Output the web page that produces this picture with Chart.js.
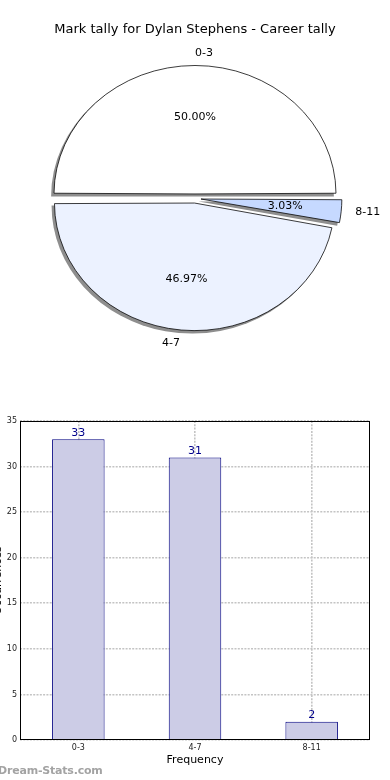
<!DOCTYPE html>
<html>
<head>
<meta charset="utf-8">
<script src="https://cdn.jsdelivr.net/npm/chart.js@4.4.0/dist/chart.umd.min.js"></script>
<style>
html, body { margin: 0; padding: 0; background: #fff; }
body { width: 390px; height: 780px; position: relative; overflow: hidden; }
#pie { position: absolute; left: 0; top: 0; }
#bar { position: absolute; left: -10px; top: 400px; }
#mark { position: absolute; left: -2px; top: 764px; font: bold 11px "DejaVu Sans", sans-serif; color: #a3a3a3; letter-spacing: -0.2px; }
</style>
</head>
<body>
<canvas id="pie" width="390" height="360"></canvas>
<canvas id="bar" width="400" height="380"></canvas>
<div id="mark">Dream-Stats.com</div>
<script>
// data
const chartTitle = 'Mark tally for Dylan Stephens - Career tally';
const categories = ['0-3', '4-7', '8-11'];
const tally = [33, 31, 2];
const pieOrder = [0, 2, 1];   // clockwise order round the pie

const FONT = '"DejaVu Sans", sans-serif';
const squash = 0.911;         // pie is drawn as an ellipse

// where chart.js really draws an exploded arc
function arcGeom(arc) {
	const p = arc.getProps(['x', 'y', 'startAngle', 'endAngle', 'outerRadius', 'circumference'], true);
	const mid = (p.startAngle + p.endAngle) / 2;
	const shift = (arc.options.offset || 0) / 4;
	const fix = 1 - Math.sin(Math.min(Math.PI, p.circumference || 0));
	return {
		cx: p.x + Math.cos(mid) * shift,
		cy: p.y + Math.sin(mid) * shift,
		r: p.outerRadius + shift * fix,
		start: p.startAngle, end: p.endAngle, mid: mid
	};
}

// pie: shadow, ellipse and the text round it
const pieLook = {
	id: 'pieLook',
	beforeDatasetsDraw(chart) {
		const ctx = chart.ctx;
		const meta = chart.getDatasetMeta(0);
		const a = meta.data[0];
		// shadows first, shifted left and down
		ctx.save();
		ctx.translate(-2.5, 2.5);
		ctx.translate(a.x, a.y);
		ctx.scale(1, squash);
		ctx.translate(-a.x, -a.y);
		ctx.fillStyle = '#8e8e8e';
		meta.data.forEach(function(arc) {
			const g = arcGeom(arc);
			ctx.beginPath();
			ctx.moveTo(g.cx, g.cy);
			ctx.arc(g.cx, g.cy, g.r + 0.4, g.start, g.end);
			ctx.closePath();
			ctx.fill();
		});
		ctx.restore();
		// then the slices themselves as an ellipse
		ctx.save();
		ctx.translate(a.x, a.y);
		ctx.scale(1, squash);
		ctx.translate(-a.x, -a.y);
	},
	afterDatasetsDraw(chart) {
		const ctx = chart.ctx;
		ctx.restore();
		const meta = chart.getDatasetMeta(0);
		const data = chart.data.datasets[0].data;
		const total = data.reduce((s, v) => s + v, 0);
		const oy = meta.data[0].y;
		ctx.save();
		ctx.font = '11px ' + FONT;
		ctx.fillStyle = '#000';
		ctx.textBaseline = 'middle';
		meta.data.forEach(function(arc, i) {
			const g = arcGeom(arc);
			const c = Math.cos(g.mid), s = Math.sin(g.mid);
			const at = k => [g.cx + c * k * g.r, oy + (g.cy + s * k * g.r - oy) * squash];
			let pt = at(0.6);
			ctx.textAlign = 'center';
			ctx.fillText((data[i] / total * 100).toFixed(2) + '%', pt[0], pt[1]);
			pt = at(1.1);
			ctx.textAlign = c > 0 ? 'left' : 'right';
			ctx.fillText(chart.data.labels[i], pt[0], pt[1]);
		});
		ctx.restore();
	}
};

new Chart(document.getElementById('pie'), {
	type: 'pie',
	data: {
		labels: pieOrder.map(i => categories[i]),
		datasets: [{
			data: pieOrder.map(i => tally[i]),
			backgroundColor: ['#ffffff', '#c6d9ff', '#ecf2ff'],
			borderColor: '#000',
			borderWidth: 0.8,
			offset: [20, 24, 20],
			radius: 136,
			rotation: -90,
			clip: false
		}]
	},
	options: {
		responsive: false,
		animation: false,
		rotation: -90,
		events: [],
		layout: { padding: { top: 0, bottom: 8.1, left: 0, right: 0 } },
		plugins: {
			legend: { display: false },
			tooltip: { enabled: false },
			title: {
				display: true,
				text: chartTitle,
				color: '#000',
				font: { family: FONT, size: 13, weight: 'normal' },
				padding: { top: 22, bottom: 7.5 }
			}
		}
	},
	plugins: [pieLook]
});

// bar: box round the plot and the value labels
const barLook = {
	id: 'barLook',
	afterDraw(chart) {
		const ctx = chart.ctx, a = chart.chartArea;
		ctx.save();
		ctx.strokeStyle = '#000';
		ctx.lineWidth = 1;
		ctx.strokeRect(Math.round(a.left) + 0.5, Math.round(a.top) + 0.5,
			Math.round(a.right - a.left) - 1, Math.round(a.bottom - a.top) - 1);
		ctx.font = '11px ' + FONT;
		ctx.fillStyle = '#00008b';
		ctx.textAlign = 'center';
		ctx.textBaseline = 'bottom';
		chart.getDatasetMeta(0).data.forEach(function(bar, i) {
			ctx.fillText(chart.data.datasets[0].data[i], bar.x, bar.y - 1);
		});
		ctx.restore();
	}
};

const gridStyle = { color: '#c4c4c4', lineWidth: 1.6, drawTicks: false };

new Chart(document.getElementById('bar'), {
	type: 'bar',
	data: {
		labels: categories,
		datasets: [{
			data: tally,
			backgroundColor: '#ccccE6',
			borderColor: '#000080',
			borderWidth: 1,
			barPercentage: 0.45,
			categoryPercentage: 1
		}]
	},
	options: {
		responsive: false,
		animation: false,
		events: [],
		layout: { padding: { top: 21, right: 20, left: 0, bottom: 0 } },
		plugins: {
			legend: { display: false },
			tooltip: { enabled: false }
		},
		scales: {
			x: {
				z: 1,
				grid: Object.assign({ offset: false }, gridStyle),
				border: { display: false, dash: [2, 1.3] },
				ticks: { color: '#222', font: { family: FONT, size: 8 }, padding: 3 },
				title: {
					display: true, text: 'Frequency', color: '#000',
					font: { family: FONT, size: 11 }, padding: { top: 0, bottom: 13 }
				},
				afterFit(s) { s.height = 40; }
			},
			y: {
				min: 0,
				max: 35,
				grid: gridStyle,
				border: { display: false, dash: [2, 1.3] },
				ticks: { stepSize: 5, color: '#222', font: { family: FONT, size: 8 }, padding: 3 },
				title: {
					display: true, text: 'Occurrences', color: '#000',
					font: { family: FONT, size: 11 }, padding: { top: 1.5, bottom: 0 }
				},
				afterFit(s) { s.width = 30; }
			}
		}
	},
	plugins: [barLook]
});
</script>
</body>
</html>
